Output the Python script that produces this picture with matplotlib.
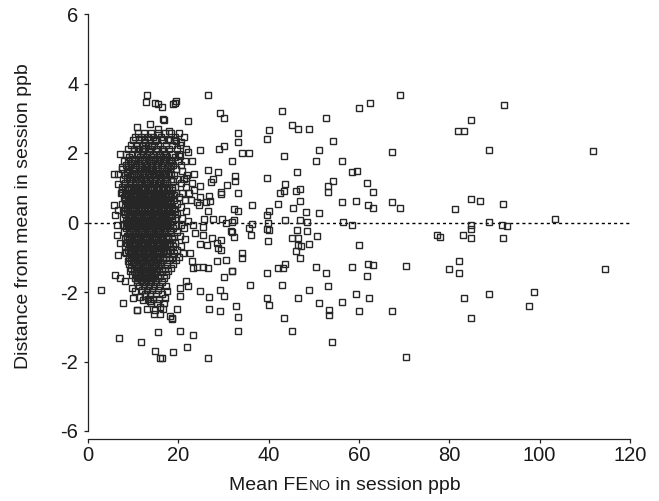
import matplotlib.pyplot as plt
from matplotlib.offsetbox import TextArea, HPacker, AnchoredOffsetbox

plt.rcParams['font.family'] = ['Liberation Sans', 'DejaVu Sans']

# scattered points (mean FeNO, distance from mean)
feno_sparse = [
    92.0, 84.8, 82.0, 83.2, 88.8, 111.7, 84.7, 86.7, 91.9, 81.2, 88.8, 103.5,
    84.8, 84.8, 91.7, 92.7, 77.9, 83.1, 84.8, 91.9, 82.1, 79.9, 82.1, 114.4,
    83.2, 88.7, 98.8, 97.7, 84.7, 77.2,
    69.1, 62.4, 60.1, 43.0, 52.8, 45.2, 46.5, 49.0, 40.1, 33.2, 33.2, 39.6,
    54.2, 51.2, 67.4, 34.2, 35.7, 43.3, 50.5, 56.2, 31.9, 58.4, 59.5, 46.2,
    32.6, 32.6, 39.7, 43.7, 54.2, 61.8, 63.2, 53.1, 53.1, 47.0, 46.1, 42.4,
    43.5, 33.2, 46.9, 42.1, 45.4, 36.2, 32.4, 33.2, 56.3, 59.4, 62.0, 63.2,
    67.4, 69.1, 40.1, 39.7, 48.3, 51.2, 43.7, 47.0, 48.4, 32.3, 56.5, 58.5,
    36.2, 35.6, 36.0, 39.8, 39.6, 40.1, 46.2, 48.5, 31.9, 32.4, 45.1, 46.6,
    39.8, 50.6, 49.0, 46.6, 47.1, 46.1, 47.0, 34.1, 34.1, 60.1, 31.9, 39.7,
    43.7, 42.1, 43.1, 50.5, 52.8, 58.5, 62.1, 63.2, 61.8, 70.3, 35.9, 43.0,
    53.1, 49.0, 46.5, 39.6, 40.1, 32.7, 51.2, 56.3, 59.3, 62.2, 53.4, 53.4,
    60.1, 67.3, 33.1, 43.4, 33.1, 45.2, 54.1, 70.3,
    26.6, 29.2, 30.2, 19.4, 18.9, 22.1, 16.8, 18.0, 24.9, 29.1, 30.2, 19.5,
    20.7, 18.2, 22.1, 23.1, 18.3, 18.3, 20.4, 26.6, 28.8, 23.5, 21.8, 24.8,
    27.2, 27.7, 30.8, 29.4, 29.4, 24.9, 26.7, 26.1, 27.0, 24.1, 24.6, 26.6,
    25.7, 27.7, 29.7, 30.6, 31.8, 31.6, 23.3, 25.4, 23.6, 25.4, 27.4, 29.4,
    28.5, 24.8, 26.3, 28.8, 29.4, 22.6, 23.0, 23.3, 24.2, 26.6, 28.5, 30.6,
    31.8, 30.2, 25.5, 20.4, 20.4, 21.8, 22.2, 24.8, 26.9, 29.2, 30.2, 26.9,
    29.2, 19.6, 18.5, 18.5, 20.4, 23.3, 22.0, 18.9, 16.3, 26.6, 17.4, 17.0,
    13.1, 12.9, 14.8, 15.6, 10.8, 13.7, 15.4, 7.1, 5.8, 6.7, 7.5, 6.7,
    7.5, 5.8, 6.0, 6.7, 6.4, 6.4, 7.1, 6.7, 6.0, 2.8, 7.8, 10.9,
    10.0, 6.9, 11.7, 15.4, 14.8, 15.9, 12.6, 14.1, 14.8, 11.1, 12.2, 8.9,
    8.6, 9.7, 7.5, 8.2, 7.8, 8.9, 8.2, 8.9, 9.3, 7.1, 8.2, 9.7,
    10.4, 12.6, 13.7, 14.8, 19.3, 16.3, 16.7, 11.5, 12.2, 10.8, 13.0, 15.9,
    16.7, 18.2,
]
diff_sparse = [
    3.37, 2.96, 2.62, 2.64, 2.10, 2.05, 0.69, 0.62, 0.53, 0.39, 0.01, 0.11,
    -0.08, -0.19, -0.06, -0.10, -0.42, -0.37, -0.46, -0.46, -1.12, -1.33, -1.44, -1.35,
    -2.16, -2.05, -2.01, -2.41, -2.74, -0.36,
    3.68, 3.44, 3.29, 3.21, 3.01, 2.82, 2.69, 2.68, 2.66, 2.57, 2.32, 2.39,
    2.34, 2.10, 2.03, 2.01, 2.01, 1.90, 1.76, 1.78, 1.76, 1.45, 1.49, 1.46,
    1.33, 1.18, 1.29, 1.10, 1.20, 1.14, 0.89, 1.04, 0.89, 0.97, 0.91, 0.85,
    0.91, 0.86, 0.63, 0.54, 0.43, 0.51, 0.40, 0.32, 0.58, 0.61, 0.49, 0.43,
    0.58, 0.43, 0.32, 0.21, 0.31, 0.27, 0.08, 0.07, 0.02, 0.07, 0.02, -0.08,
    -0.05, -0.16, -0.37, 0.00, -0.19, -0.22, -0.22, -0.25, -0.28, -0.41, -0.44, -0.46,
    -0.52, -0.39, -0.62, -0.65, -0.68, -0.81, -1.01, -0.87, -1.03, -0.66, -1.41, -1.46,
    -1.18, -1.32, -1.32, -1.29, -1.45, -1.29, -1.18, -1.23, -1.55, -1.26, -1.80, -1.80,
    -1.84, -1.95, -2.17, -2.18, -2.36, -2.40, -2.33, -2.28, -2.05, -2.17, -2.52, -2.66,
    -2.54, -2.56, -2.72, -2.75, -3.12, -3.12, -3.45, -3.86,
    3.67, 3.16, 3.00, 3.51, 3.42, 2.91, 2.95, 2.62, 2.10, 2.11, 2.19, 2.34,
    2.33, 2.36, 2.03, 1.76, 1.78, 1.62, 1.91, 1.52, 1.45, 1.41, 1.29, 1.04,
    1.16, 1.26, 1.09, 0.88, 0.83, 0.73, 0.75, 0.59, 0.61, 0.59, 0.51, 0.32,
    0.11, 0.11, 0.11, -0.01, 0.02, -0.24, -0.08, -0.12, -0.31, -0.36, -0.46, -0.49,
    -0.60, -0.62, -0.65, -0.74, -0.79, -0.89, -1.12, -1.31, -1.29, -1.31, -1.11, -1.08,
    -1.39, -1.57, -1.29, -1.89, -2.12, -1.69, -1.84, -1.98, -2.15, -1.95, -2.12, -2.48,
    -2.55, -2.49, -2.74, -2.79, -3.12, -3.24, -3.58, -3.74, -3.91, -3.91, -1.98, -2.17,
    3.66, 3.47, 3.43, 3.40, 2.75, 2.83, 2.69, 1.97, 1.40, 1.40, 1.59, 1.11,
    0.97, 0.49, 0.21, 0.35, -0.08, -0.36, -0.60, -0.93, -1.51, -1.95, -2.33, -2.53,
    -2.17, -3.31, -3.44, -3.14, -3.69, -3.89, 2.31, 2.21, 2.35, 2.11, 2.07, 1.59,
    1.45, 1.83, 0.88, 0.69, -0.08, -0.08, -0.84, -1.12, -1.41, -1.60, -1.69, -1.89,
    -1.98, -2.12, -2.27, -2.51, 3.45, 3.31, 2.97, -2.15, -2.22, -2.52, -2.48, -2.44,
    -2.48, -2.69,
]

# dense cluster at low FeNO, read row by row (distance value, FeNO values)
cluster_diff = [
    2.58, 2.47, 2.36, 2.22, 2.11, 1.97, 1.89, 1.78, 1.66, 1.55, 1.47, 1.36,
    1.24, 1.15, 1.03, 0.94, 0.85, 0.73, 0.64, 0.53, 0.44, 0.33, 0.24, 0.13,
    0.04, -0.06, -0.17, -0.27, -0.38, -0.47, -0.58, -0.68, -0.79, -0.88, -0.98, -1.09,
    -1.19, -1.30, -1.40, -1.51, -1.61, -1.72, -1.83, -1.94, -2.06, -2.19, -2.33, -2.62,
]
cluster_feno = [
    [11.0, 12.4, 13.9, 15.5, 17.0, 18.4, 20.1],
    [10.4, 11.7, 13.2, 14.4, 16.1, 19.3, 21.2],
    [10.0, 11.3, 12.5, 13.8, 15.1, 16.6, 17.8, 19.0],
    [9.6, 10.7, 12.1, 13.3, 14.6, 15.6, 17.2, 18.5, 20.4],
    [8.9, 10.2, 11.4, 12.7, 13.8, 15.3, 16.4, 17.9, 19.6, 21.8],
    [8.4, 9.7, 10.9, 12.2, 13.1, 14.5, 15.9, 17.0, 18.6, 20.1],
    [9.1, 11.6, 12.8, 14.0, 15.2, 16.5, 17.6, 19.2],
    [7.9, 8.8, 10.1, 11.1, 12.3, 13.4, 14.4, 15.7, 16.9, 18.3, 19.9, 21.4],
    [8.4, 9.5, 10.6, 11.8, 12.9, 13.9, 15.0, 16.2, 17.5, 18.8, 20.5],
    [7.6, 9.0, 10.0, 11.2, 12.4, 13.5, 14.5, 15.6, 16.8, 18.1, 19.4],
    [8.6, 10.4, 11.6, 12.8, 14.0, 15.1, 16.3, 17.3, 20.8],
    [8.1, 9.3, 10.1, 11.0, 12.1, 13.2, 14.4, 15.5, 16.6, 17.9, 19.0, 22.0],
    [7.8, 8.7, 9.8, 10.8, 11.7, 12.8, 13.7, 14.9, 15.9, 17.0, 18.4, 19.8, 21.3],
    [8.3, 9.2, 10.3, 11.3, 12.3, 13.3, 14.3, 15.4, 16.5, 17.6, 20.6, 23.1],
    [7.6, 8.6, 9.6, 10.6, 11.8, 12.7, 13.8, 14.7, 15.8, 16.9, 18.0, 19.3, 21.7],
    [8.1, 9.1, 10.1, 11.1, 12.2, 13.2, 14.2, 15.3, 16.3, 17.4, 18.7, 23.5],
    [7.3, 8.5, 9.5, 10.5, 11.5, 12.6, 13.6, 14.6, 15.7, 16.7, 17.9, 19.5, 20.8, 22.4],
    [7.9, 8.9, 9.9, 10.9, 12.0, 13.0, 14.0, 15.0, 16.1, 17.2, 18.4, 20.1],
    [8.3, 9.4, 10.4, 11.4, 12.4, 13.4, 14.4, 15.5, 16.5, 17.6, 19.0, 21.4, 22.9],
    [7.5, 8.7, 9.8, 10.8, 11.8, 12.8, 13.9, 14.9, 15.9, 17.0, 18.1, 19.6],
    [8.2, 9.2, 10.2, 11.2, 12.3, 13.3, 14.3, 15.3, 16.3, 17.4, 18.6, 20.7],
    [7.7, 8.7, 9.7, 10.7, 11.7, 12.7, 13.7, 14.8, 15.8, 16.8, 17.9, 19.2, 21.8],
    [8.3, 9.3, 10.3, 11.3, 12.3, 13.2, 14.2, 15.2, 16.2, 17.3, 18.4, 19.8],
    [7.8, 8.8, 9.8, 10.8, 11.8, 12.8, 13.8, 14.8, 15.8, 16.9, 18.0, 19.3, 20.9],
    [8.4, 9.4, 10.4, 11.4, 12.4, 13.4, 14.4, 15.4, 16.4, 17.5, 18.7, 22.2],
    [7.9, 8.9, 9.9, 10.9, 11.9, 12.9, 13.9, 14.9, 15.9, 17.0, 18.1, 19.5, 20.6],
    [8.5, 9.5, 10.5, 11.5, 12.5, 13.5, 14.5, 15.5, 16.6, 17.6, 18.9, 21.2],
    [8.0, 9.0, 10.0, 11.0, 12.0, 13.0, 14.0, 15.0, 16.0, 17.1, 18.3, 19.7],
    [8.6, 9.6, 10.6, 11.6, 12.6, 13.6, 14.6, 15.6, 16.6, 17.7, 19.0, 20.3],
    [8.1, 9.1, 10.1, 11.1, 12.1, 13.1, 14.1, 15.1, 16.2, 17.3, 18.5, 21.5],
    [8.7, 9.7, 10.7, 11.7, 12.7, 13.7, 14.7, 15.7, 16.8, 17.9, 19.3],
    [8.2, 9.2, 10.2, 11.2, 12.2, 13.2, 14.2, 15.3, 16.3, 17.4, 18.8, 20.5],
    [8.8, 9.8, 10.8, 11.8, 12.8, 13.8, 14.8, 15.8, 16.9, 18.1, 19.7],
    [8.4, 9.4, 10.4, 11.4, 12.4, 13.4, 14.4, 15.4, 16.5, 17.6, 19.0, 21.0],
    [9.0, 10.0, 11.0, 12.0, 13.0, 14.0, 15.0, 16.0, 17.2, 18.5, 20.2],
    [9.5, 10.5, 11.5, 12.5, 13.5, 14.5, 15.6, 16.7, 17.9, 19.4],
    [9.1, 10.1, 11.1, 12.1, 13.1, 14.1, 15.1, 16.2, 17.4, 18.8],
    [9.6, 10.6, 11.6, 12.6, 13.6, 14.6, 15.7, 17.0, 18.3],
    [10.1, 11.1, 12.1, 13.1, 14.1, 15.2, 16.4, 17.8],
    [9.7, 10.7, 11.7, 12.7, 13.7, 14.8, 16.0, 17.3],
    [10.3, 11.3, 12.3, 13.3, 14.3, 15.5, 16.8],
    [10.8, 11.9, 12.9, 13.9, 15.0, 16.3],
    [11.4, 12.5, 13.5, 14.6, 15.8, 17.2],
    [12.0, 13.1, 14.2, 15.4],
    [12.6, 13.8, 15.0, 16.4],
    [13.2, 14.5, 15.8],
    [13.9, 15.3, 16.9],
    [14.6, 16.0],
]

# darkest core of the cluster, read the same way
core_diff = [
    2.05, 1.83, 1.71, 1.60, 1.41, 1.30, 1.20, 0.99, 0.79, 0.69, 0.58, 0.38,
    0.18, 0.08, -0.01, -0.22, -0.32, -0.43, -0.63, -0.73, -0.83, -1.03, -1.14, -1.24,
    -1.45, -1.56, -1.66,
]
core_feno = [
    [11.9, 13.6, 15.0, 16.9],
    [10.5, 12.0, 13.5, 14.8, 16.0, 17.3],
    [9.6, 11.4, 12.6, 14.0, 15.4, 16.7, 18.0],
    [10.5, 11.9, 13.0, 14.0, 15.1, 16.3, 17.7],
    [9.7, 11.0, 12.2, 13.4, 14.6, 15.7, 16.9, 18.3],
    [10.6, 11.6, 12.7, 13.8, 15.0, 16.1, 17.3],
    [9.3, 10.3, 11.8, 12.8, 13.8, 14.9, 16.0, 17.1, 18.8],
    [9.1, 10.1, 11.2, 12.2, 13.3, 14.2, 15.3, 16.4, 17.5, 18.6],
    [8.4, 9.4, 10.4, 11.5, 12.5, 13.6, 14.6, 15.6, 16.6, 17.7, 19.0],
    [9.9, 10.9, 12.0, 13.0, 14.0, 15.1, 16.1, 17.1],
    [8.8, 9.8, 10.8, 11.9, 12.9, 13.9, 14.9, 16.0, 17.0, 18.1],
    [8.7, 9.7, 10.7, 11.7, 12.7, 13.7, 14.7, 15.8, 16.8, 17.9, 19.0],
    [9.3, 10.3, 11.3, 12.3, 13.3, 14.3, 15.3, 16.3, 17.3, 18.5],
    [9.0, 10.0, 11.0, 12.0, 13.0, 14.0, 15.0, 16.0, 17.0],
    [8.6, 9.6, 10.6, 11.6, 12.6, 13.6, 14.6, 15.6, 16.6, 17.8],
    [9.0, 10.0, 11.0, 12.0, 13.0, 14.0, 15.0, 16.0, 17.1, 18.2],
    [9.4, 10.4, 11.4, 12.4, 13.4, 14.4, 15.4, 16.4],
    [8.6, 9.6, 10.6, 11.6, 12.6, 13.6, 14.6, 15.6, 16.7, 17.8],
    [9.0, 10.0, 11.0, 12.0, 13.0, 14.0, 15.0, 16.0, 17.0, 18.2],
    [9.6, 10.6, 11.6, 12.6, 13.6, 14.6, 15.6, 16.5],
    [9.2, 10.2, 11.2, 12.2, 13.2, 14.2, 15.2, 16.2, 17.3],
    [9.6, 10.6, 11.6, 12.6, 13.6, 14.6, 15.6, 16.6],
    [10.0, 11.0, 12.0, 13.0, 14.0, 15.0, 16.0],
    [10.6, 11.6, 12.6, 13.6, 14.6, 15.6],
    [10.6, 11.6, 12.6, 13.6, 14.6],
    [11.1, 12.1, 13.1, 14.1],
    [10.8, 11.8, 12.8, 13.8, 14.8],
]

y_ticks = [6, 4, 2, 0, -2, -4, -6]
y_ticklabels = ['6', '4', '2', '0', '-2', '-2', '-6']
x_ticks = [0, 20, 40, 60, 80, 100, 120]

feno = list(feno_sparse)
diff = list(diff_sparse)
for d, row in list(zip(cluster_diff, cluster_feno)) + list(zip(core_diff, core_feno)):
    feno += row
    diff += [d] * len(row)

fig = plt.figure(figsize=(6.59, 5.01), dpi=100)
ax = fig.add_axes([88 / 659, 1 - 431 / 501, 542 / 659, 417 / 501])

ax.axhline(0, color='black', lw=1.0, ls=(0, (2.2, 2.2)), zorder=1)
ax.plot(feno, diff, 's', ms=5.0, mfc='none', mec='#262626', mew=1.0, zorder=2)

ax.set_xlim(0, 120)
ax.set_ylim(-6, 6)
ax.set_xticks(x_ticks)
ax.set_yticks(y_ticks)
ax.set_yticklabels(y_ticklabels)

for s in ['top', 'right']:
    ax.spines[s].set_visible(False)
ax.spines['bottom'].set_position(('outward', 6))
for s in ['left', 'bottom']:
    ax.spines[s].set_linewidth(0.9)
    ax.spines[s].set_color('#222222')

ax.tick_params(direction='out', length=3, width=0.9, color='#222222',
               labelsize=14.5, labelcolor='#1a1a1a')
ax.tick_params(axis='x', pad=2)
ax.tick_params(axis='y', pad=4)

fig.text(24 / 659, 1 - 216 / 501, 'Distance from mean in session ppb',
         rotation=90, ha='center', va='center', fontsize=14, color='#1a1a1a')

# x label with small-caps "NO"
parts = [TextArea('Mean FE', textprops=dict(size=14, color='#1a1a1a')),
         TextArea('NO', textprops=dict(size=10.5, color='#1a1a1a')),
         TextArea(' in session ppb', textprops=dict(size=14, color='#1a1a1a'))]
box = HPacker(children=parts, align='baseline', pad=0, sep=0)
xlab = AnchoredOffsetbox(loc='center', child=box, pad=0, borderpad=0, frameon=False,
                         bbox_to_anchor=(345 / 659, 1 - 485 / 501),
                         bbox_transform=fig.transFigure)
fig.add_artist(xlab)

fig.savefig('out.png', dpi=100)
